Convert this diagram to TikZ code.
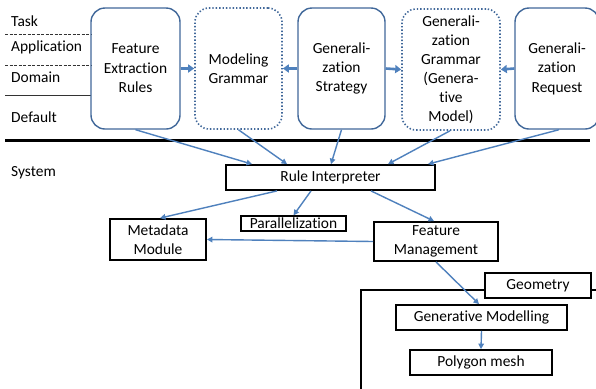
\documentclass[tikz,border=0pt]{standalone}
\usepackage{fontspec}
\setmainfont{Carlito}[Ligatures=NoCommon]
\usetikzlibrary{arrows.meta,calc}
\definecolor{arrowblue}{HTML}{4F81BD}
\definecolor{boxblue}{HTML}{41689A}
\begin{document}
\begin{tikzpicture}[x=1bp,y=-1bp,
  font=\fontsize{15.5}{19.5}\selectfont,
  layer/.style={anchor=west,inner sep=0pt},
  rbox/.style={draw=boxblue,line width=1.4bp,rounded corners=14bp,minimum height=121bp,align=center,inner sep=0pt},
  dbox/.style={rbox,dotted,line width=1.6bp},
  bbox/.style={draw=black,line width=1.8bp,fill=white,align=center,inner sep=0pt},
  conn/.style={draw=arrowblue,line width=1.4bp,-{Triangle[length=5.5bp,width=5.5bp]}},
  tconn/.style={draw=arrowblue,line width=2.6bp,-{Triangle[length=6bp,width=8bp]}},
  sep/.style={draw=black!80,line width=0.9bp,dash pattern=on 3bp off 1.5bp}
]
\useasboundingbox (0,0) rectangle (596,388);
\fill[white] (0,0) rectangle (596,388);

% layer labels
\node[layer] (task) at (11,21) {Task};
\node[layer] (app) at (11,47) {Application};
\node[layer] (dom) at (11,77) {Domain};
\node[layer] (def) at (11,117) {Default};
\node[layer] (sys) at (11,173) {System};
\coordinate (s1a) at (5,34);  \coordinate (s1b) at (91,34);
\coordinate (s2a) at (5,65);  \coordinate (s2b) at (91,65);
\coordinate (s3a) at (5,95);  \coordinate (s3b) at (91,95);
\coordinate (tla) at (5,140); \coordinate (tlb) at (590,140);
\draw[sep] (s1a) -- (s1b);
\draw[sep] (s2a) -- (s2b);
\draw[black!80,line width=0.9bp] (s3a) -- (s3b);
\draw[black,line width=3bp] (tla) -- (tlb);

% top boxes
\node[rbox,minimum width=89bp,text width=80bp] (fer) at (135.5,68.5) {Feature\\Extraction\\Rules};
\node[dbox,minimum width=87bp,text width=80bp] (mg) at (238.5,68.5) {Modeling\\Grammar};
\node[rbox,minimum width=87bp,text width=80bp] (gs) at (341.5,68.5) {Generali-\\zation\\Strategy};
\node[dbox,minimum width=98bp,text width=90bp,font=\fontsize{15.5}{19}\selectfont] (gg) at (451,69.5) {Generali-\\zation\\Grammar\\(Genera-\\tive\\Model)};
\node[rbox,minimum width=84bp,text width=80bp] (gr) at (557,68.5) {Generali-\\zation\\Request};

\draw[tconn] (fer.east) -- (mg.west);
\draw[tconn] (gs.west) -- (mg.east);
\draw[tconn] (gs.east) -- (gg.west);
\draw[tconn] (gr.west) -- (gg.east);

% system boxes
\node[bbox,minimum width=209bp,minimum height=25bp] (ri) at (330.5,177.5) {Rule Interpreter};
\node[bbox,minimum width=105bp,minimum height=15bp,line width=1.4bp] (par) at (293.5,223.5) {Parallelization};
\node[bbox,minimum width=96bp,minimum height=41bp] (mm) at (158,239.5) {Metadata\\Module};
\node[bbox,minimum width=124bp,minimum height=39bp] (fm) at (436,241.5) {Feature\\Management};

\draw[conn] (fer.south) -- ([xshift=-78.5bp]ri.north);
\draw[conn] (mg.south) -- ([xshift=-43.5bp]ri.north);
\draw[conn] (gs.south) -- ([xshift=0.5bp]ri.north);
\draw[conn] ([xshift=-1bp]gg.south) -- ([xshift=57.5bp]ri.north);
\draw[conn] ([xshift=2bp]gr.south) -- ([xshift=97.5bp]ri.north);

\draw[conn] ([xshift=-53.5bp]ri.south) -- ([xshift=2bp]mm.north);
\draw[conn] ([xshift=-19.5bp]ri.south) -- (par.north);
\draw[conn] ([xshift=40.5bp]ri.south) -- ([xshift=-2bp]fm.north);
\draw[conn] (fm.west) -- (mm.east);

% geometry
\coordinate (ga) at (600,290);
\coordinate (gb) at (361,290);
\coordinate (gc) at (361,392);
\draw[black,line width=1.8bp] (ga) -- (gb) -- (gc);
\node[bbox,minimum width=106bp,minimum height=25bp] (geo) at (538,285.5) {Geometry};
\node[bbox,minimum width=171bp,minimum height=25bp] (gm) at (481.5,317.5) {Generative Modelling};
\node[bbox,minimum width=142bp,minimum height=25bp] (pm) at (481,362.5) {Polygon mesh};

\draw[conn] (fm.south) -- ([xshift=-2.5bp]gm.north);
\draw[conn] (gm.south) -- (pm.north);
\end{tikzpicture}
\end{document}
